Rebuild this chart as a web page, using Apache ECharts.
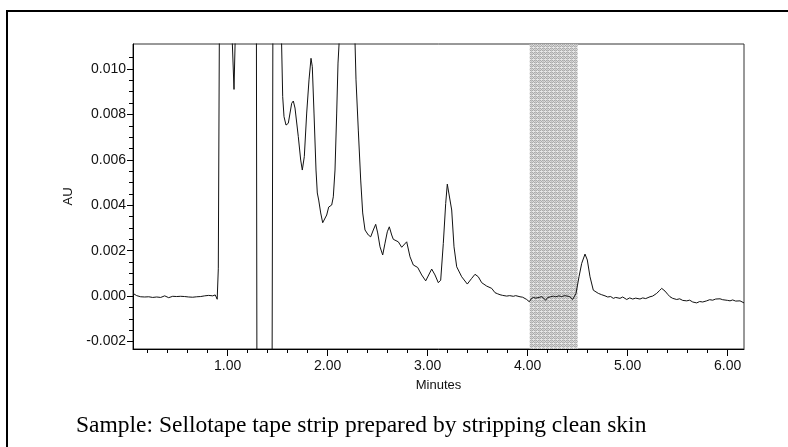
<!DOCTYPE html>
<html><head><meta charset="utf-8">
<script src="https://cdn.jsdelivr.net/npm/echarts@6/dist/echarts.min.js"></script>
<style>html,body{margin:0;padding:0;background:#fff}#c{width:788px;height:447px}</style>
</head><body><div id="c"></div>
<script>
const times = [0.053,0.07,0.09,0.11,0.13,0.15,0.17,0.19,0.21,0.23,0.25,0.27,0.29,0.31,0.33,0.35,0.37,0.39,0.41,0.43,0.45,0.47,0.49,0.51,0.53,0.55,0.57,0.59,0.61,0.63,0.65,0.67,0.69,0.71,0.73,0.75,0.77,0.79,0.81,0.83,0.85,0.86,0.875,0.885,0.895,0.906,0.92,0.96,1.02,1.045,1.063,1.075,1.12,1.25,1.287,1.292,1.30,1.43,1.444,1.452,1.50,1.537,1.55,1.563,1.583,1.606,1.64,1.656,1.673,1.706,1.73,1.746,1.766,1.79,1.813,1.833,1.846,1.863,1.883,1.896,1.91,1.93,1.95,1.97,1.99,2.01,2.04,2.056,2.073,2.09,2.103,2.113,2.15,2.20,2.25,2.273,2.283,2.306,2.33,2.35,2.373,2.406,2.43,2.456,2.48,2.50,2.523,2.55,2.573,2.596,2.616,2.64,2.656,2.673,2.706,2.74,2.79,2.823,2.856,2.90,2.94,2.98,3.04,3.073,3.106,3.13,3.156,3.18,3.196,3.216,3.24,3.263,3.29,3.34,3.396,3.44,3.473,3.506,3.54,3.59,3.64,3.673,3.70,3.723,3.75,3.77,3.79,3.82,3.856,3.88,3.90,3.923,3.95,3.97,3.99,4.016,4.035,4.056,4.08,4.10,4.116,4.14,4.16,4.18,4.20,4.23,4.256,4.28,4.31,4.34,4.37,4.39,4.42,4.45,4.483,4.513,4.54,4.573,4.596,4.623,4.656,4.706,4.74,4.773,4.80,4.83,4.856,4.88,4.90,4.923,4.95,4.97,4.99,5.02,5.05,5.08,5.10,5.123,5.15,5.18,5.20,5.223,5.25,5.27,5.29,5.32,5.34,5.36,5.373,5.40,5.423,5.45,5.47,5.49,5.52,5.55,5.57,5.59,5.62,5.65,5.67,5.69,5.72,5.75,5.77,5.79,5.82,5.85,5.88,5.90,5.923,5.95,5.97,6.00,6.023,6.05,6.08,6.10,6.123,6.14,6.163];
const absorbance = [0.00012,0.00008,0.00002,0.00003,-0.00003,0.00001,-0.00004,-0.00001,-0.00003,-0.00002,-0.00006,0.00000,-0.00004,-0.00001,-0.00006,-0.00001,0.00001,-0.00004,-0.00007,-0.00003,-0.00001,-0.00006,-0.00002,-0.00005,-0.00001,-0.00004,-0.00002,-0.00008,-0.00004,-0.00002,-0.00005,0.00000,-0.00003,-0.00007,-0.00002,-0.00004,0.00001,-0.00002,0.00003,0.00006,0.00001,-0.00004,0.00005,-0.00004,-0.00014,0.0012,0.0150,0.0300,0.0200,0.0113,0.0091,0.0113,0.0250,0.0250,0.0120,-0.0030,-0.0080,-0.0080,-0.0030,0.0120,0.0300,0.0115,0.00878,0.00790,0.00753,0.00761,0.00849,0.00859,0.00828,0.00702,0.00599,0.00555,0.00614,0.00806,0.00952,0.01047,0.01010,0.00806,0.00555,0.00454,0.00423,0.00366,0.00323,0.00323,0.00357,0.00392,0.00401,0.00437,0.00555,0.00806,0.01026,0.01106,0.0200,0.0280,0.0200,0.0112,0.00952,0.00731,0.00511,0.00366,0.00291,0.00269,0.00261,0.00291,0.00316,0.00278,0.00217,0.00181,0.00233,0.00283,0.00305,0.00269,0.00250,0.00251,0.00239,0.00215,0.00239,0.00173,0.00137,0.00126,0.00093,0.00067,0.00119,0.00093,0.00059,0.00070,0.00232,0.00408,0.00493,0.00489,0.00379,0.00217,0.00129,0.00085,0.00053,0.00078,0.00096,0.00085,0.00059,0.00044,0.00034,0.00015,0.00010,0.00006,0.00003,0.00005,0.00000,0.00002,-0.00001,0.00002,-0.00002,-0.00003,-0.00005,-0.00008,-0.00015,-0.00025,-0.00012,-0.00006,-0.00009,-0.00004,-0.00006,-0.00002,-0.00008,-0.00018,-0.00006,-0.00003,0.00000,-0.00003,0.00001,-0.00002,0.00002,0.00001,-0.00002,-0.00015,0.00012,0.00085,0.00144,0.00185,0.00159,0.00085,0.00026,0.00012,0.00006,0.00001,-0.00004,-0.00002,-0.0001,-0.00006,-0.00012,-0.0001,-0.00004,-0.00012,-0.00015,-0.00008,-0.00013,-0.00009,-0.00015,-0.00013,-0.00008,-0.00011,-0.00005,-0.00003,0.00000,0.00004,0.00012,0.00025,0.00034,0.00030,0.00022,0.00008,-0.00003,-0.00010,-0.00006,-0.00015,-0.00012,-0.00019,-0.00014,-0.00021,-0.00018,-0.00026,-0.00022,-0.0003,-0.00024,-0.00026,-0.00019,-0.00021,-0.00016,-0.00018,-0.00013,-0.00009,-0.00012,-0.00016,-0.00013,-0.00019,-0.00021,-0.00017,-0.00022,-0.00018,-0.00021,-0.00019,-0.0003];
const shadedWindow = [4.02, 4.50];
const xMajorTicks = [1, 2, 3, 4, 5, 6];
const xMinorTicks = [0.2,0.4,0.6,0.8,1.2,1.4,1.6,1.8,2.2,2.4,2.6,2.8,3.2,3.4,3.6,3.8,4.2,4.4,4.6,4.8,5.2,5.4,5.6,5.8];
const yMajorTicks = [-0.002, 0, 0.002, 0.004, 0.006, 0.008, 0.010];
const yMinorTicks = [-0.0015,-0.001,-0.0005,0.0005,0.001,0.0015,0.0025,0.003,0.0035,0.0045,0.005,0.0055,0.0065,0.007,0.0075,0.0085,0.009,0.0095,0.0105];
const xRange = [0.053, 6.163];
const yRange = [-0.00233, 0.0111];
const caption = 'Sample: Sellotape tape strip prepared by stripping clean skin';

const pc = document.createElement('canvas');
pc.width = 4; pc.height = 4;
const g = pc.getContext('2d');
for (let i = 0; i < 4; i++) for (let j = 0; j < 4; j++) {
  let c = ((i + j) % 2 === 0) ? '#a9a9a9' : '#dadada';
  if (j === 3) c = '#e8e8e8';
  if (i === 3) c = '#c2c2c2';
  g.fillStyle = c; g.fillRect(i, j, 1, 1);
}

const chart = echarts.init(document.getElementById('c'), null, {renderer: 'canvas'});
const font = 'Liberation Sans';
chart.setOption({
  animation: false,
  backgroundColor: '#fff',
  grid: {left: 133, right: 44, top: 44, bottom: 98, show: true, borderColor: '#333', borderWidth: 1, backgroundColor: 'transparent'},
  xAxis: [
    {type: 'value', min: xRange[0], max: xRange[1], position: 'bottom',
     name: 'Minutes', nameLocation: 'middle', nameGap: 30,
     nameTextStyle: {fontFamily: font, fontSize: 13, color: '#111'},
     axisLine: {show: true, onZero: false, lineStyle: {color: '#000', width: 1}},
     axisTick: {show: true, length: 7, lineStyle: {color: '#000'}, customValues: xMajorTicks},
     axisLabel: {show: true, customValues: xMajorTicks, margin: 10, fontFamily: font, fontSize: 14, color: '#111', formatter: v => v.toFixed(2)},
     splitLine: {show: false}},
    {type: 'value', min: xRange[0], max: xRange[1], position: 'bottom',
     axisLine: {show: false, onZero: false},
     axisTick: {show: true, length: 4, lineStyle: {color: '#000'}, customValues: xMinorTicks},
     axisLabel: {show: false}, splitLine: {show: false}}
  ],
  yAxis: [
    {type: 'value', min: yRange[0], max: yRange[1], position: 'left',
     name: 'AU', nameLocation: 'middle', nameGap: 58,
     nameTextStyle: {fontFamily: font, fontSize: 13, color: '#111'},
     axisLine: {show: true, onZero: false, lineStyle: {color: '#000', width: 1}},
     axisTick: {show: true, length: 6, lineStyle: {color: '#000'}, customValues: yMajorTicks},
     axisLabel: {show: true, customValues: yMajorTicks, margin: 7, fontFamily: font, fontSize: 14, color: '#111', formatter: v => v.toFixed(3)},
     splitLine: {show: false}},
    {type: 'value', min: yRange[0], max: yRange[1], position: 'left',
     axisLine: {show: false, onZero: false},
     axisTick: {show: true, length: 4, lineStyle: {color: '#000'}, customValues: yMinorTicks},
     axisLabel: {show: false}, splitLine: {show: false}}
  ],
  series: [{
    type: 'line', xAxisIndex: 0, yAxisIndex: 0, showSymbol: false, clip: true, z: 3,
    lineStyle: {color: '#111', width: 1},
    data: times.map((t, i) => [t, absorbance[i]]),
    markArea: {silent: true, itemStyle: {color: {image: pc, repeat: 'repeat'}},
      data: [[{xAxis: shadedWindow[0]}, {xAxis: shadedWindow[1]}]]}
  }],
  graphic: [
    {type: 'rect', shape: {x: 7, y: 11, width: 900, height: 600}, style: {fill: 'none', stroke: '#000', lineWidth: 2}, silent: true},
    {type: 'text', x: 76, y: 426, style: {text: caption, font: '23.5px "Liberation Serif"', fill: '#000', verticalAlign: 'middle', align: 'left'}}
  ]
});
</script></body></html>
